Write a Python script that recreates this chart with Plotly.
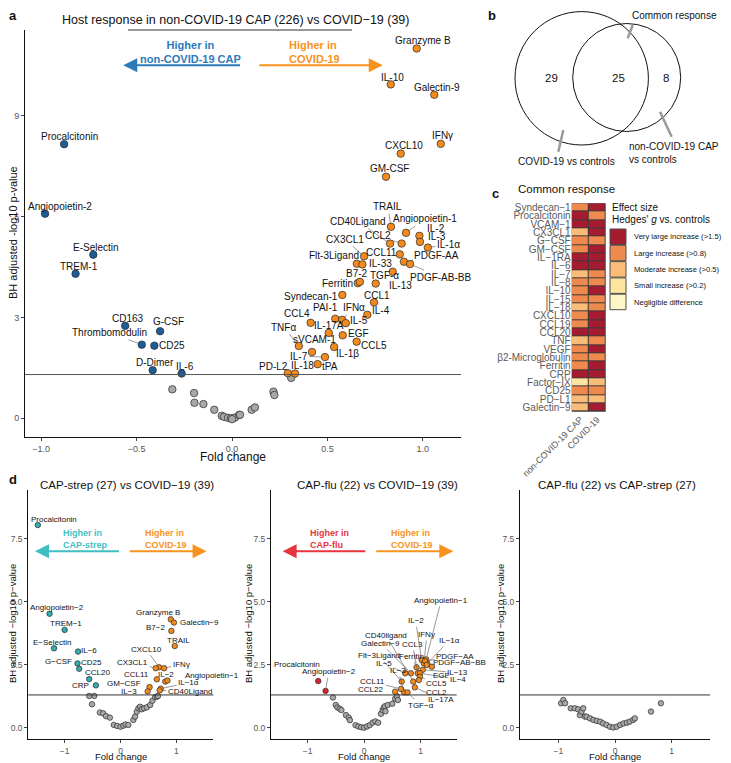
import plotly.graph_objects as go

# the page body adds an 8px margin, so the figure is drawn 8px in and 8px smaller
OFFSET = 8
W, H = 731 - OFFSET, 763 - OFFSET
FONT = "Liberation Sans, Arial, sans-serif"

# ---------------- panel a: non-COVID-19 CAP vs COVID-19 ----------------
A_CAP_NAMES = ["Procalcitonin", "Angiopoietin-2", "E-Selectin", "TREM-1", "CD163",
               "G-CSF", "Thrombomodulin", "CD25", "D-Dimer", "IL-6"]
A_CAP_FC = [-0.88, -0.98, -0.727, -0.82, -0.56, -0.377, -0.473, -0.407, -0.416, -0.264]
A_CAP_P = [8.16, 6.09, 4.87, 4.30, 2.75, 2.59, 2.19, 2.16, 1.43, 1.33]

A_COV_NAMES = ["Granzyme B", "IL-10", "Galectin-9", "IFNγ", "CXCL10", "GM-CSF", "TRAIL",
               "CD40Ligand", "Angiopoietin-1", "IL-2", "IL-3", "IL-1α", "CCL2", "CX3CL1",
               "CCL11", "PDGF-AA", "Flt-3Ligand", "IL-33", "PDGF-AB-BB", "IL-13", "TGF-α",
               "Ferritin", "B7-2", "Syndecan-1", "CCL1", "IL-4", "PAI-1", "IFNα", "IL-5",
               "IL-17A", "CCL4", "EGF", "TNFα", "sVCAM-1", "CCL5", "IL-1β", "IL-7", "tPA",
               "PD-L2", "IL-18"]
A_COV_FC = [0.968, 0.832, 1.06, 1.094, 0.884, 0.807, 0.833, 0.828, 0.912, 0.982, 0.985,
            1.026, 0.889, 0.692, 0.879, 0.901, 0.654, 0.683, 0.933, 0.842, 0.753, 0.659,
            0.67, 0.578, 0.744, 0.709, 0.541, 0.577, 0.596, 0.507, 0.412, 0.58, 0.35,
            0.419, 0.653, 0.535, 0.487, 0.449, 0.292, 0.33]
A_COV_P = [11.01, 9.94, 9.63, 8.17, 7.88, 7.19, 5.70, 5.20, 5.52, 5.43, 5.25, 5.08, 5.20,
           4.82, 4.88, 4.66, 4.60, 4.58, 4.59, 4.36, 4.01, 4.02, 4.06, 3.67, 3.45, 3.08,
           2.96, 2.93, 2.83, 2.54, 2.84, 2.47, 2.15, 1.97, 2.28, 2.12, 1.82, 1.61, 1.34, 1.33]

A_NS_FC = [-0.313, -0.199, -0.197, -0.150, -0.093, -0.054, -0.042, -0.021, -0.005, 0.016,
           0.038, 0.0, 0.042, 0.103, 0.120, 0.217, 0.222, 0.310]
A_NS_P = [0.86, 0.75, 0.46, 0.42, 0.25, 0.07, 0.04, 0.01, 0.0, 0.02, 0.10, -0.03, 0.10,
          0.25, 0.32, 0.79, 0.69, 1.20]

# ---------------- panel c: common response heatmap ----------------
C_ROWS = ["Syndecan−1", "Procalcitonin", "VCAM−1", "CX3CL1", "G−CSF", "GM−CSF", "IL−1RA",
          "IL−6", "IL−7", "IL−8", "IL−10", "IL−15", "IL−18", "CXCL10", "CCL19", "CCL20",
          "TNF", "VEGF", "β2-Microglobulin", "Ferritin", "CRP", "Factor−IX", "CD25",
          "PD−L1", "Galectin−9"]
C_COLS = ["non-COVID-19 CAP", "COVID-19"]
# 1 negligible, 2 small, 3 moderate, 4 large, 5 very large
C_CAP = [4, 5, 5, 3, 4, 4, 5, 5, 3, 4, 4, 4, 3, 4, 4, 5, 3, 4, 4, 4, 5, 2, 4, 3, 3]
C_COVID = [5, 4, 5, 5, 4, 5, 5, 5, 4, 4, 5, 4, 4, 5, 5, 5, 4, 5, 4, 5, 5, 3, 4, 3, 5]
C_LEVELS = ["Very large increase (>1.5)", "Large increase (>0.8)", "Moderate increase (>0.5)",
            "Small increase (>0.2)", "Negligible difference"]

# ---------------- panel b: Venn counts ----------------
VENN_COUNTS = [29, 25, 8]

# ---------------- panel d1: CAP-strep vs COVID-19 ----------------
D1_STREP_NAMES = ["Procalcitonin", "Angiopoietin−2", "TREM−1", "E−Selectin", "IL−6",
                  "G−CSF", "CD25", "CCL20", "CRP"]
D1_STREP_FC = [-1.48, -1.27, -1.0, -1.19, -0.76, -0.77, -0.74, -0.56, -0.44]
D1_STREP_P = [8.04, 4.52, 3.88, 3.15, 3.02, 2.55, 2.34, 1.93, 1.68]
D1_COV_NAMES = ["Granzyme B", "Galectin−9", "B7−2", "TRAIL", "CXCL10", "CX3CL1", "IFNγ",
                "CCL11", "IL−2", "Angiopoietin−1", "GM−CSF", "IL−1α", "IL−3", "CD40Ligand"]
D1_COV_FC = [0.90, 0.955, 0.91, 0.97, 0.69, 0.63, 0.78, 0.65, 0.80, 0.84, 0.52, 0.72,
             0.485, 0.70]
D1_COV_P = [4.30, 4.17, 3.84, 3.24, 2.40, 2.36, 2.36, 1.92, 1.83, 1.87, 1.61, 1.55,
            1.44, 1.48]
D1_NS_FC = [-0.56, -0.47, -0.51, -0.37, -0.31, -0.26, -0.19, -0.12, -0.06, 0.0, 0.05, 0.09,
            0.14, 0.23, 0.26, 0.29, 0.32, 0.35, 0.38, 0.42, 0.47, 0.53, 0.57, 0.62, 0.65, 0.67]
D1_NS_P = [1.26, 1.26, 0.93, 0.60, 0.57, 0.46, 0.40, 0.11, 0.07, 0.04, 0.08, 0.13, 0.11,
           0.31, 0.44, 0.63, 0.77, 0.83, 0.73, 0.77, 0.81, 0.90, 1.07, 1.21, 1.23, 1.26]

# ---------------- panel d2: CAP-flu vs COVID-19 ----------------
D2_FLU_NAMES = ["Procalcitonin", "Angiopoietin−2"]
D2_FLU_FC = [-0.81, -0.68]
D2_FLU_P = [1.85, 1.46]
D2_COV_NAMES = ["Angiopoietin−1", "IL−2", "IFNγ", "IL−1α", "CD40ligand", "Galectin−9",
                "CCL3", "PDGF−AA", "Flt−3Ligand", "Ferritin", "PDGF−AB−BB", "IL−5", "IL−13",
                "EGF", "IL−4", "IL−3", "CCL5", "CCL11", "CCL2", "CCL22", "IL−17A", "TGF−α"]
D2_COV_FC = [1.10, 1.02, 1.06, 1.12, 0.87, 0.83, 0.95, 1.08, 0.667, 0.93, 1.11, 0.73,
             1.04, 1.20, 0.99, 0.71, 0.99, 0.655, 0.97, 0.55, 0.90, 0.77]
D2_COV_P = [2.71, 2.69, 2.55, 2.55, 1.83, 2.16, 2.16, 2.65, 1.83, 2.40, 2.49, 2.16,
            2.30, 2.42, 2.16, 1.40, 2.02, 1.54, 1.89, 1.43, 1.60, 1.40]
D2_NS_FC = [-0.55, -0.50, -0.47, -0.43, -0.40, -0.32, -0.27, -0.25, -0.15, -0.10, -0.05,
            0.0, 0.05, 0.10, 0.15, 0.20, 0.25, 0.30, 0.33, 0.35, 0.37, 0.38, 0.42, 0.50,
            0.55, 0.58, 0.60]
D2_NS_P = [1.20, 0.90, 0.80, 0.75, 0.70, 0.50, 0.40, 0.30, 0.10, 0.05, 0.02, 0.0, 0.05,
           0.10, 0.20, 0.25, 0.20, 0.55, 0.70, 0.80, 0.85, 0.65, 0.90, 0.95, 1.15, 1.25, 1.10]

# ---------------- panel d3: CAP-flu vs CAP-strep ----------------
D3_NS_FC = [-0.95, -0.91, -0.88, -0.78, -0.71, -0.65, -0.62, -0.59, -0.56, -0.53, -0.50,
            -0.44, -0.38, -0.32, -0.26, -0.21, -0.15, -0.09, -0.03, 0.03, 0.09, 0.15, 0.21,
            0.26, 0.32, 0.35, 0.635, 0.81]
D3_NS_P = [0.97, 1.10, 0.97, 0.77, 0.77, 0.73, 0.50, 0.64, 0.77, 0.44, 0.44, 0.37, 0.31,
           0.27, 0.24, 0.17, 0.11, 0.04, 0.01, 0.04, 0.11, 0.17, 0.20, 0.24, 0.31, 0.37,
           0.64, 0.97]

P_THRESHOLD = 1.30

# label offsets in pixels (dx, dy, draw leader line)
A_LABEL_POS = {
    "Procalcitonin": (5, -8, False), "Angiopoietin-2": (15, -7, False),
    "E-Selectin": (3, -7, False), "TREM-1": (3, -7, False), "CD163": (3, -7, False),
    "G-CSF": (8, -10, True), "Thrombomodulin": (-32, -12, True), "CD25": (18, 0, False),
    "D-Dimer": (2, -8, False), "IL-6": (3, -7, False),
    "Granzyme B": (6, -8, False), "IL-10": (2, -7, False), "Galectin-9": (3, -7, False),
    "IFNγ": (2, -8, False), "CXCL10": (3, -8, False), "GM-CSF": (3, -8, False),
    "TRAIL": (-3, -20, True), "CD40Ligand": (-32, -22, True),
    "Angiopoietin-1": (19, -14, True), "IL-2": (17, -7, False), "IL-3": (17, -5, False),
    "IL-1α": (21, -3, True), "CCL2": (-24, -8, True), "CX3CL1": (-19, -17, True),
    "CCL11": (-18, -2, False), "PDGF-AA": (33, -6, True), "Flt-3Ligand": (-23, -8, False),
    "IL-33": (18, -1, False), "PDGF-AB-BB": (30, 13, True), "IL-13": (8, 14, True),
    "TGF-α": (9, -8, False), "Ferritin": (-20, 0, False), "B7-2": (-3, -8, False),
    "Syndecan-1": (-31, 2, False), "CCL1": (3, -7, False), "IL-4": (14, -4, False),
    "PAI-1": (-10, -11, False), "IFNα": (12, -12, True), "IL-5": (13, -3, False),
    "IL-17A": (0, -7, False), "CCL4": (-14, -9, False), "EGF": (16, -2, False),
    "TNFα": (-15, -19, True), "sVCAM-1": (3, -13, False), "CCL5": (17, 4, False),
    "IL-1β": (13, 6, False), "IL-7": (-26, -1, True), "tPA": (12, 2, False),
    "PD-L2": (-14, -7, False), "IL-18": (7, -8, False),
}
D1_LABEL_POS = {
    "Procalcitonin": (16, -6, False), "Angiopoietin−2": (7, -6, False),
    "TREM−1": (1, -6, False), "E−Selectin": (-2, -6, False), "IL−6": (11, -1, False),
    "G−CSF": (-19, -2, False), "CD25": (12, -6, False), "CCL20": (8, -7, False),
    "CRP": (-15, 0, False), "Granzyme B": (-13, -7, False), "Galectin−9": (26, 0, False),
    "B7−2": (-16, -3, False), "TRAIL": (4, -6, False), "CXCL10": (-13, -18, True),
    "CX3CL1": (-23, -6, True), "IFNγ": (17, -4, True), "CCL11": (-20, -5, False),
    "IL−2": (1, -7, False), "Angiopoietin−1": (45, -5, False), "GM−CSF": (-26, -4, False),
    "IL−1α": (28, -6, True), "IL−3": (-19, 0, False), "CD40Ligand": (30, 1, True),
}
D2_LABEL_POS = {
    "Procalcitonin": (-21, -17, False), "Angiopoietin−2": (3, -19, True),
    "Angiopoietin−1": (15, -59, True), "IL−2": (-6, -39, True), "IFNγ": (3, -29, True),
    "IL−1α": (22, -23, True), "CD40ligand": (-27, -46, True), "Galectin−9": (-30, -30, True),
    "CCL3": (-5, -29, True), "PDGF−AA": (30, -4, True), "Flt−3Ligand": (-23, -26, True),
    "Ferritin": (-5, -11, True), "PDGF−AB−BB": (33, -2, True), "IL−5": (-21, -10, True),
    "IL−13": (35, 3, True), "EGF": (10, 9, False), "IL−4": (38, 6, True),
    "IL−3": (-6, -22, True), "CCL5": (17, 7, True), "CCL11": (-29, -7, True),
    "CCL2": (18, 12, True), "CCL22": (-25, -2, False), "IL−17A": (26, 12, True),
    "TGF−α": (13, 13, True),
}

BLUE = "#1c5d95"
ORANGE = "#f28a1d"
TEAL = "#35abad"
RED = "#d9232f"
GRAY = "#a8a8a8"
EFFECT_COLORS = ["#fff6c8", "#fde5a0", "#f9bd78", "#ef8a4e", "#a51c30"]


def px(x):
    return (x - OFFSET) / W


def py(y):
    return 1 - (y - OFFSET) / H


def points(xa, ya, fc, lp, color, size):
    return go.Scatter(
        x=fc, y=lp, xaxis=xa, yaxis=ya, mode="markers", hoverinfo="skip",
        marker=dict(size=size, color=color, line=dict(color="#2a2a2a", width=0.7)),
    )


def labels(names, fc, lp, pos, xref, yref, size):
    out = []
    for name, x, y in zip(names, fc, lp):
        dx, dy, leader = pos.get(name, (0, -8, False))
        out.append(dict(
            x=x, y=y, xref=xref, yref=yref, text=name, showarrow=True,
            ax=dx, ay=dy, arrowhead=0, arrowwidth=0.6, standoff=3,
            arrowcolor="#555555" if leader else "rgba(0,0,0,0)",
            font=dict(family=FONT, size=size, color="#111111"),
        ))
    return out


def direction(xref, yref, tail, head, color, width=2):
    return dict(x=head, y=tail[1], ax=tail[0], ay=tail[1], xref=xref, yref=yref,
                axref=xref, ayref=yref, text="", showarrow=True, arrowhead=2,
                arrowsize=1.4, arrowwidth=width, arrowcolor=color)


def note(x, y, text, size, color="#111111", xref="paper", yref="paper", **kw):
    d = dict(x=x, y=y, xref=xref, yref=yref, text=text, showarrow=False,
             xanchor="center", yanchor="middle",
             font=dict(family=FONT, size=size, color=color))
    d.update(kw)
    return d


fig = go.Figure()

# panel a
fig.add_trace(points("x", "y", A_NS_FC, A_NS_P, GRAY, 7.5))
fig.add_trace(points("x", "y", A_CAP_FC, A_CAP_P, BLUE, 7.5))
fig.add_trace(points("x", "y", A_COV_FC, A_COV_P, ORANGE, 7.5))

# panel c heatmap
z = [[c, v] for c, v in zip(C_CAP, C_COVID)]
scale = []
for i, col in enumerate(EFFECT_COLORS):
    scale += [[i / 5, col], [(i + 1) / 5, col]]
fig.add_trace(go.Heatmap(
    x=C_COLS, y=C_ROWS, z=z, xaxis="x2", yaxis="y2", zmin=0.5, zmax=5.5,
    colorscale=scale, showscale=False, xgap=1, ygap=1, hoverinfo="skip",
))

# panel d
fig.add_trace(points("x3", "y3", D1_NS_FC, D1_NS_P, GRAY, 5.5))
fig.add_trace(points("x3", "y3", D1_STREP_FC, D1_STREP_P, TEAL, 5.5))
fig.add_trace(points("x3", "y3", D1_COV_FC, D1_COV_P, ORANGE, 5.5))
fig.add_trace(points("x4", "y4", D2_NS_FC, D2_NS_P, GRAY, 5.5))
fig.add_trace(points("x4", "y4", D2_FLU_FC, D2_FLU_P, RED, 5.5))
fig.add_trace(points("x4", "y4", D2_COV_FC, D2_COV_P, ORANGE, 5.5))
fig.add_trace(points("x5", "y5", D3_NS_FC, D3_NS_P, GRAY, 5.5))

axis_style = dict(
    showline=True, linecolor="#111111", linewidth=1, ticks="outside", ticklen=3,
    tickcolor="#444444", showgrid=False, zeroline=False, automargin=False,
)
tick_a = dict(family=FONT, size=9, color="#555555")
tick_d = dict(family=FONT, size=8.5, color="#555555")

layout_axes = dict(
    xaxis=dict(domain=[px(25), px(461)], range=[-1.085, 1.20], anchor="y",
               tickvals=[-1, -0.5, 0, 0.5, 1], tickformat=".1f", tickfont=tick_a, **axis_style),
    yaxis=dict(domain=[py(437), py(30)], range=[-0.56, 11.56], anchor="x",
               tickvals=[0, 3, 6, 9], tickfont=tick_a, **axis_style),
    xaxis2=dict(domain=[px(571.7), px(605.7)], anchor="y2", tickangle=-45, showgrid=False,
                zeroline=False, ticks="", automargin=False,
                tickfont=dict(family=FONT, size=9, color="#555555")),
    yaxis2=dict(domain=[py(411.7), py(203.3)], anchor="x2", autorange="reversed",
                showgrid=False, zeroline=False, ticks="", automargin=False,
                tickmode="array", tickvals=C_ROWS, ticktext=C_ROWS,
                tickfont=dict(family=FONT, size=10, color="#5a5a5a")),
)
d_domains = [(28.3, 213.3, [-1.65, 1.66]), (271, 456.7, [-1.646, 1.64]),
             (520, 710, [-1.675, 1.675])]
for i, (x0, x1, rng) in enumerate(d_domains):
    n = i + 3
    layout_axes[f"xaxis{n}"] = dict(domain=[px(x0), px(x1)], range=rng, anchor=f"y{n}",
                                    tickvals=[-1, 0, 1], tickfont=tick_d, **axis_style)
    layout_axes[f"yaxis{n}"] = dict(domain=[py(739.3), py(490)], range=[-0.46, 9.43],
                                    anchor=f"x{n}", tickvals=[0, 2.5, 5, 7.5],
                                    tickformat=".1f", tickfont=tick_d, **axis_style)

shapes = []
# significance thresholds
for xr, yr, col in [("x", "y", "#555555"), ("x3", "y3", "#333333"),
                    ("x4", "y4", "#333333"), ("x5", "y5", "#333333")]:
    shapes.append(dict(type="line", xref=f"{xr} domain", yref=yr, x0=0, x1=1,
                       y0=P_THRESHOLD, y1=P_THRESHOLD, line=dict(color=col, width=1)))
# underline below panel a title
shapes.append(dict(type="line", xref="paper", yref="paper", x0=px(128), x1=px(352),
                   y0=py(30), y1=py(30), line=dict(color="#333333", width=1)))
# heatmap borders
shapes.append(dict(type="rect", xref="x2 domain", yref="y2 domain", x0=0, x1=1, y0=0, y1=1,
                   fillcolor="#3a3a3a", line=dict(width=0), layer="below"))
# Venn circles
for cx, cy, r in [(581.7, 78.3, 66.7), (626.7, 77.5, 54)]:
    shapes.append(dict(type="circle", xref="paper", yref="paper",
                       x0=px(cx - r), x1=px(cx + r), y0=py(cy + r), y1=py(cy - r),
                       line=dict(color="#111111", width=1)))
for (xa, ya), (xb, yb) in [((632.7, 25), (627.7, 38.3)), ((660, 111.7), (671.7, 136.7)),
                           ((563.3, 130), (558.3, 151.7))]:
    shapes.append(dict(type="line", xref="paper", yref="paper", x0=px(xa), y0=py(ya),
                       x1=px(xb), y1=py(yb), line=dict(color="#9a9a9a", width=2.5)))
# effect size legend keys
key_tops = [229, 245.3, 261.6, 277.9, 294.2]
for top, col in zip(key_tops, EFFECT_COLORS[::-1]):
    shapes.append(dict(type="rect", xref="paper", yref="paper", x0=px(610), x1=px(626),
                       y0=py(top + 15.5), y1=py(top), fillcolor=col,
                       line=dict(color="#4d4d4d", width=1)))

ann = []
ann += labels(A_CAP_NAMES, A_CAP_FC, A_CAP_P, A_LABEL_POS, "x", "y", 10)
ann += labels(A_COV_NAMES, A_COV_FC, A_COV_P, A_LABEL_POS, "x", "y", 10)
ann += labels(D1_STREP_NAMES, D1_STREP_FC, D1_STREP_P, D1_LABEL_POS, "x3", "y3", 8)
ann += labels(D1_COV_NAMES, D1_COV_FC, D1_COV_P, D1_LABEL_POS, "x3", "y3", 8)
ann += labels(D2_FLU_NAMES, D2_FLU_FC, D2_FLU_P, D2_LABEL_POS, "x4", "y4", 8)
ann += labels(D2_COV_NAMES, D2_COV_FC, D2_COV_P, D2_LABEL_POS, "x4", "y4", 8)

# direction arrows
ann.append(direction("x", "y", (0.05, 10.51), -0.57, "#2b7bba"))
ann.append(direction("x", "y", (0.135, 10.51), 0.79, "#f7931e"))
ann.append(direction("x3", "y3", (0.0, 7.0), -1.53, "#3fbfc2"))
ann.append(direction("x3", "y3", (0.14, 7.0), 1.54, "#f7931e"))
ann.append(direction("x4", "y4", (0.05, 7.0), -1.44, "#e8343f"))
ann.append(direction("x4", "y4", (0.19, 7.0), 1.58, "#f7931e"))
ann.append(note(-0.22, 10.9, "<b>Higher in<br>non-COVID-19 CAP</b>", 11, "#2b7bba",
                "x", "y", align="center"))
ann.append(note(0.287, 10.9, "<b>Higher in<br>COVID-19</b>", 11, "#f7931e", "x", "y",
                xanchor="left", align="left"))
ann.append(note(-1.06, 7.49, "<b>Higher in<br>CAP-strep</b>", 9, "#3fbfc2", "x3", "y3",
                xanchor="left", align="left"))
ann.append(note(0.40, 7.49, "<b>Higher in<br>COVID-19</b>", 9, "#f7931e", "x3", "y3",
                xanchor="left", align="left"))
ann.append(note(-0.99, 7.49, "<b>Higher in<br>CAP-flu</b>", 9, "#e8343f", "x4", "y4",
                xanchor="left", align="left"))
ann.append(note(0.44, 7.49, "<b>Higher in<br>COVID-19</b>", 9, "#f7931e", "x4", "y4",
                xanchor="left", align="left"))

# titles and axis titles
ann.append(note(px(236), py(20), "Host response in non-COVID-19 CAP (226) vs COVID−19 (39)", 12.5))
ann.append(note(px(233), py(457), "Fold change", 12))
ann.append(note(px(13), py(233), "BH adjusted -log10 p-value", 11, textangle=-90))
for cx, title in [(127, "CAP-strep (27) vs COVID−19 (39)"), (378, "CAP-flu (22) vs COVID−19 (39)"),
                  (617, "CAP-flu (22) vs CAP-strep (27)")]:
    ann.append(note(px(cx), py(485), title, 11.5))
for cx in [120.5, 364, 615]:
    ann.append(note(px(cx), py(756), "Fold change", 9.5))
for cx in [12, 248, 500]:
    ann.append(note(px(cx), py(624), "BH adjusted −log10 p−value", 9.5, textangle=-90))

# panel letters
for x, y, letter in [(13, 16, "a"), (492, 16, "b"), (495, 193, "c"), (13, 480, "d")]:
    ann.append(note(px(x), py(y), f"<b>{letter}</b>", 13))

# Venn text
for x, count in zip([551.7, 618.3, 666], VENN_COUNTS):
    ann.append(note(px(x), py(78.3), str(count), 11.5))
ann.append(note(px(674), py(15), "Common response", 10))
ann.append(note(px(627), py(152.5), "non-COVID-19 CAP<br>vs controls", 10,
                xanchor="left", align="left"))
ann.append(note(px(566.7), py(161), "COVID-19 vs controls", 10))

# panel c text
ann.append(note(px(566.7), py(189.3), "Common response", 11.5))
ann.append(note(px(610), py(207.3), "Effect size", 10, xanchor="left"))
ann.append(note(px(610), py(220), "Hedges' <i>g</i> vs. controls", 10, xanchor="left"))
for top, lab in zip(key_tops, C_LEVELS):
    ann.append(note(px(631.5), py(top + 8), lab, 7.6, xanchor="left"))

fig.update_layout(
    template="none",
    width=W, height=H, margin=dict(l=0, r=0, t=0, b=0, pad=0),
    paper_bgcolor="white", plot_bgcolor="white", showlegend=False,
    font=dict(family=FONT, color="#111111"),
    shapes=shapes, annotations=ann, **layout_axes,
)

fig.write_html("out.html")
